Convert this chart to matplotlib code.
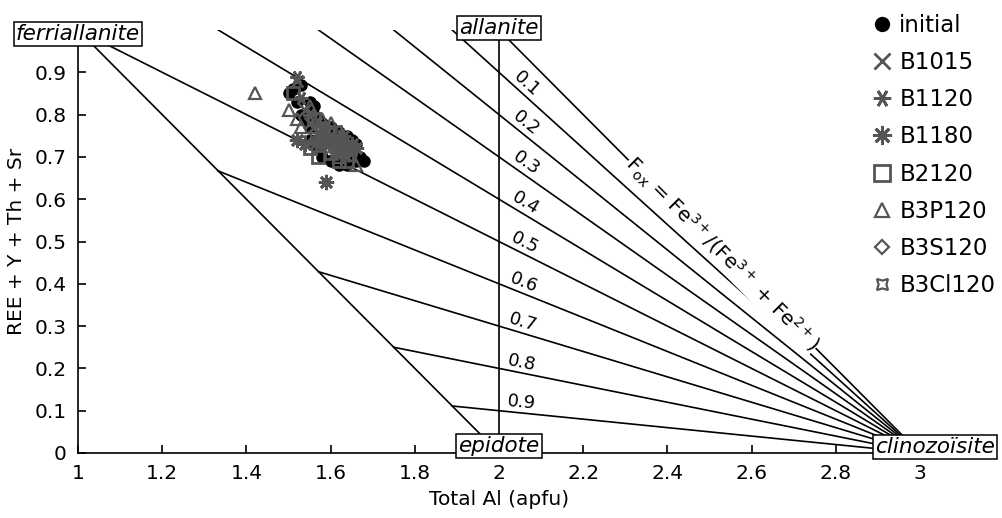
import numpy as np
import matplotlib.pyplot as plt

# endmembers (Total Al, REE+Y+Th+Sr)
endmembers = ["ferriallanite", "allanite", "epidote", "clinozoïsite"]
end_x = [1.0, 2.0, 2.0, 3.035]
end_y = [0.99, 1.005, 0.016, 0.014]

# Fox isolines (through clinozoisite)
fox = [0.1, 0.2, 0.3, 0.4, 0.5, 0.6, 0.7, 0.8, 0.9]

# measured compositions
initial_x = [1.50, 1.52, 1.55, 1.53, 1.56, 1.58, 1.60, 1.62, 1.64, 1.66, 1.67, 1.68, 1.66, 1.62,
             1.60, 1.58, 1.57, 1.55, 1.55, 1.60, 1.63, 1.65, 1.61, 1.59, 1.54, 1.51, 1.53, 1.57,
             1.63, 1.64, 1.56, 1.65]
initial_y = [0.85, 0.83, 0.83, 0.80, 0.80, 0.78, 0.77, 0.76, 0.75, 0.73, 0.70, 0.69, 0.69, 0.68,
             0.69, 0.70, 0.72, 0.74, 0.77, 0.73, 0.72, 0.71, 0.75, 0.75, 0.79, 0.86, 0.87, 0.79,
             0.70, 0.68, 0.82, 0.74]
b1015_x = [1.52, 1.56, 1.58, 1.60, 1.62, 1.57, 1.59, 1.61, 1.55, 1.63, 1.54]
b1015_y = [0.88, 0.77, 0.75, 0.74, 0.72, 0.76, 0.73, 0.71, 0.78, 0.73, 0.81]
b1120_x = [1.52, 1.55, 1.58, 1.60, 1.62, 1.64, 1.57, 1.59, 1.61, 1.56, 1.53]
b1120_y = [0.89, 0.80, 0.76, 0.75, 0.74, 0.72, 0.78, 0.77, 0.73, 0.73, 0.84]
b1180_x = [1.59, 1.52, 1.54, 1.61, 1.65, 1.66, 1.58, 1.63]
b1180_y = [0.64, 0.74, 0.73, 0.72, 0.73, 0.72, 0.74, 0.75]
b2120_x = [1.51, 1.55, 1.57, 1.60, 1.62, 1.64, 1.58, 1.61, 1.56]
b2120_y = [0.85, 0.72, 0.70, 0.71, 0.69, 0.69, 0.76, 0.76, 0.79]
b3p120_x = [1.42, 1.50, 1.52, 1.53, 1.62, 1.66, 1.58, 1.60, 1.55]
b3p120_y = [0.85, 0.81, 0.79, 0.77, 0.70, 0.68, 0.79, 0.78, 0.82]
b3s120_x = [1.57, 1.60, 1.62, 1.59, 1.64]
b3s120_y = [0.77, 0.76, 0.74, 0.72, 0.71]
b3cl120_x = [1.53, 1.58, 1.61, 1.63, 1.65, 1.56]
b3cl120_y = [0.74, 0.73, 0.74, 0.71, 0.70, 0.75]

W, H = 1002, 518
fig = plt.figure(figsize=(W / 100, H / 100), dpi=100)
ax = fig.add_axes([78 / W, 65 / H, 842 / W, 423 / H])
ax.set_xlim(1, 3)
ax.set_ylim(0, 1)

lw = 1.2
# frame lines of the diagram
ax.plot([1, 2], [1, 0], color="black", lw=lw)       # ferriallanite - epidote
ax.plot([2, 2], [0, 1], color="black", lw=lw)       # allanite - epidote
ax.plot([2, 3], [1, 0], color="black", lw=lw)       # Fox = 0

# ratio of display scale y/x
ry = (423 / 1.0) / (842 / 2.0)
for f in fox:
    # y = (1-f)(3-x), starts at y=1 or on the line x+y=2
    if f <= 0.5:
        x0 = 3 - 1 / (1 - f)
    else:
        x0 = (2 - 3 * (1 - f)) / f
    y0 = (1 - f) * (3 - x0)
    ax.plot([x0, 3], [y0, 0], color="black", lw=lw)
    s = (1 - f) * ry
    n = np.hypot(1, s)
    ang = np.degrees(np.arctan(s))
    xc = 2.05
    yc = (1 - f) * (3 - xc)
    ax.annotate(f"{f:.1f}", xy=(xc, yc), xytext=(7.5 * s / n, 7.5 / n), textcoords="offset points",
                rotation=-ang, rotation_mode="anchor", ha="center", va="center", fontsize=13)

ax.text(2.53, 0.47, r"F$_{\mathrm{ox}}$ = Fe$^{3+}$/(Fe$^{3+}$ + Fe$^{2+}$)",
        rotation=-np.degrees(np.arctan(ry)), rotation_mode="anchor", ha="center", va="center",
        fontsize=14.5, bbox=dict(boxstyle="square,pad=0.02", fc="white", ec="none"), zorder=3)

gray = "#555555"
ax.plot(initial_x, initial_y, "o", color="black", ms=8, ls="none", label="initial", zorder=4)
ax.plot(b1015_x, b1015_y, "x", color=gray, ms=9, mew=2, ls="none", label="B1015", zorder=4)
ax.plot(b1120_x, b1120_y, marker=(6, 2, 90), color=gray, ms=10, mew=2, ls="none", label="B1120", zorder=4)
ax.plot(b1180_x, b1180_y, marker=(8, 2, 0), color=gray, ms=11, mew=2, ls="none", label="B1180", zorder=4)
ax.plot(b2120_x, b2120_y, "s", mfc="none", mec=gray, ms=9, mew=2, ls="none", label="B2120", zorder=4)
ax.plot(b3p120_x, b3p120_y, "^", mfc="none", mec=gray, ms=8, mew=1.6, ls="none", label="B3P120", zorder=4)
ax.plot(b3s120_x, b3s120_y, "D", mfc="none", mec=gray, ms=6, mew=1.6, ls="none", label="B3S120", zorder=4)
ax.plot(b3cl120_x, b3cl120_y, marker=(4, 1, 45), mfc="none", mec=gray, ms=9, mew=1.6, ls="none",
        label="B3Cl120", zorder=4)

for name, x, y in zip(endmembers, end_x, end_y):
    ax.text(x, y, name, style="italic", fontsize=15.5, ha="center", va="center", zorder=6, clip_on=False,
            bbox=dict(boxstyle="square,pad=0.1", fc="white", ec="black", lw=1.1))

ax.set_xticks([1, 1.2, 1.4, 1.6, 1.8, 2, 2.2, 2.4, 2.6, 2.8, 3])
ax.set_xticklabels(["1", "1.2", "1.4", "1.6", "1.8", "2", "2.2", "2.4", "2.6", "2.8", "3"])
ax.set_yticks([0, 0.1, 0.2, 0.3, 0.4, 0.5, 0.6, 0.7, 0.8, 0.9])
ax.set_yticklabels(["0", "0.1", "0.2", "0.3", "0.4", "0.5", "0.6", "0.7", "0.8", "0.9"])
ax.tick_params(direction="in", length=6, width=1.2, labelsize=14.5, pad=8)
for side in ["top", "right"]:
    ax.spines[side].set_visible(False)
for side in ["left", "bottom"]:
    ax.spines[side].set_linewidth(1.2)
ax.set_xlabel("Total Al (apfu)", fontsize=14.5, labelpad=5)
ax.set_ylabel("REE + Y + Th + Sr", fontsize=14.5, labelpad=6)

fig.legend(loc="upper left", bbox_to_anchor=(858 / W, 1.0), frameon=False, fontsize=16.5,
           handlelength=0.9, handletextpad=0.3, labelspacing=0.62, markerscale=1.25,
           borderaxespad=0.2)

fig.savefig("out.png", dpi=100)
